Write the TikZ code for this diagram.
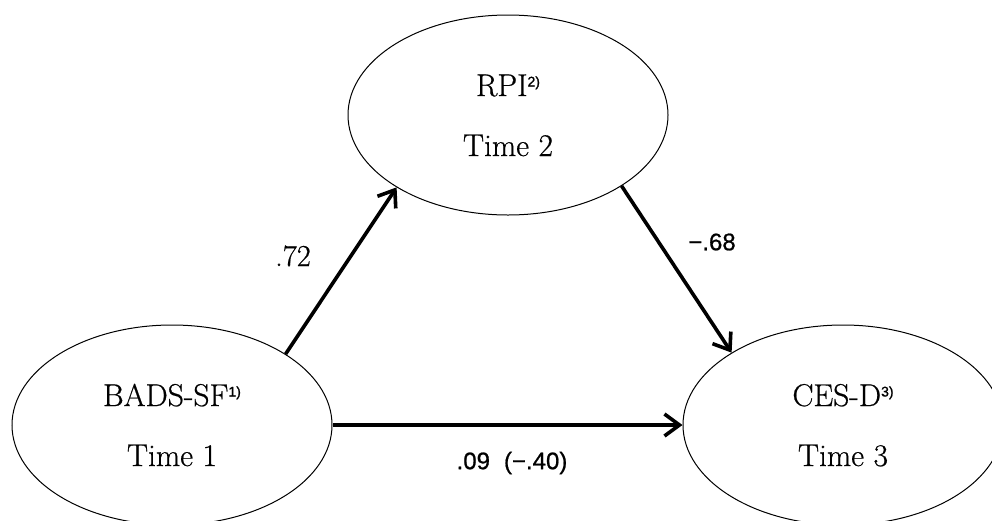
\documentclass[tikz,border=0pt]{standalone}
\usepackage{fontspec}
\setmainfont{Latin Modern Roman}[FakeBold=0.6]
\newfontfamily\coefsans[FakeBold=0.8]{Liberation Sans}
\newfontfamily\notesans[FakeBold=1.2]{Liberation Sans}
\usetikzlibrary{shapes.geometric,arrows.meta}

\tikzset{
  construct/.style={draw, ellipse, line width=1pt, minimum width=320pt,
    minimum height=200pt, inner sep=0pt},
  pathline/.style={line width=3.6pt,
    -{Straight Barb[length=15pt,width=22pt]}},
  title/.style={font=\fontsize{31.5}{36}\selectfont, inner sep=0pt, anchor=base},
  coefserif/.style={font=\fontsize{30.5}{34}\selectfont, inner sep=0pt},
  coef/.style={font=\coefsans\fontsize{24}{29}\selectfont, inner sep=0pt},
}
\newcommand{\note}[1]{\raisebox{9.5pt}{\notesans\fontsize{14}{14}\selectfont #1}}

\begin{document}
\begin{tikzpicture}[x=1pt, y=-1pt]
  \useasboundingbox (0,0) rectangle (992,520);
  \clip (0,0) rectangle (992,520);

  % latent constructs
  \node[construct] (bads) at (172,425) {};
  \node[construct] (rpi)  at (508,115) {};
  \node[construct] (cesd) at (843,425) {};

  % construct labels
  \node[title] (bads1) at ([yshift=19pt]bads.center) {BADS-SF\note{1)}};
  \node[title] (bads2) at ([yshift=-41pt]bads.center) {Time 1};
  \node[title] (rpi1)  at ([yshift=19pt]rpi.center) {RPI\note{2)}};
  \node[title] (rpi2)  at ([yshift=-41pt]rpi.center) {Time 2};
  \node[title] (cesd1) at ([yshift=19pt]cesd.center) {CES-D\note{3)}};
  \node[title] (cesd2) at ([yshift=-41pt]cesd.center) {Time 3};

  % paths
  \draw[pathline] (bads.32.4) -- (rpi.213.1);
  \draw[pathline] (rpi.-32) -- (cesd.147.6);
  \draw[pathline] (bads.east) -- (cesd.west);

  % path coefficients
  \node[coefserif] (c1) at (293,256) {.72};
  \node[coef] (c2) at (712,242) {−.68};
  \node[coef] (c3) at (512,463) {.09\hspace{14pt}(−.40)};
\end{tikzpicture}
\end{document}
